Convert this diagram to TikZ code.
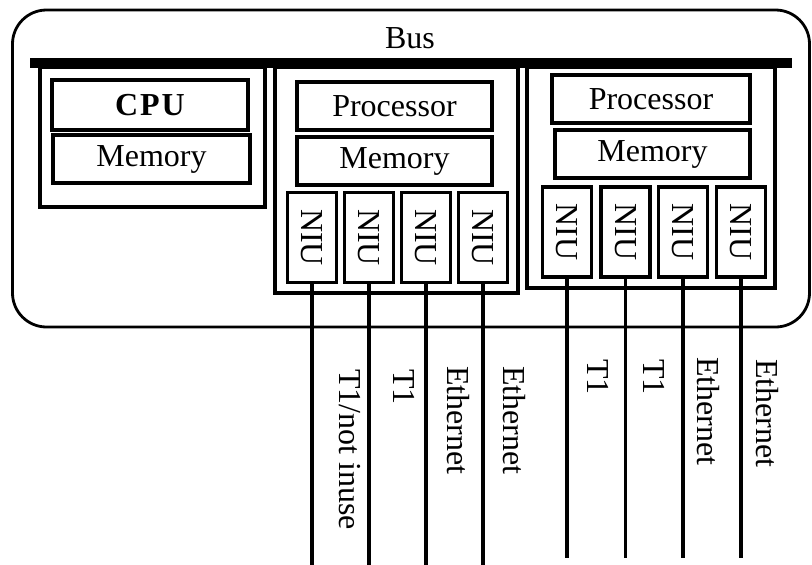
\documentclass[tikz,border=0pt]{standalone}
\usepackage{fontspec}
\setmainfont{Liberation Serif}
\begin{document}
\begin{tikzpicture}[x=1pt,y=-1pt,
  txt/.style={font=\fontsize{32}{36}\selectfont},
  box/.style={draw, line width=3.4pt, rectangle, inner sep=0pt, txt},
  module/.style={draw, line width=3.2pt, rectangle, inner sep=0pt},
  niu/.style={box, minimum width=49, minimum height=90},
  wire/.style={line width=3.4pt},
  lbl/.style={txt, rotate=-90, anchor=west, inner sep=0pt}]
\useasboundingbox (0,0) rectangle (812,565);
% outer enclosure
\node[draw, line width=2.8pt, rounded corners=34pt, minimum width=797, minimum height=317, inner sep=0pt] (outer) at (411,168.5) {};
\node[txt, inner sep=0pt] (buslbl) at (410,38) {Bus};
\node[fill=black, draw=none, minimum width=762, minimum height=10, inner sep=0pt] (bus) at (411,63) {};
% module 1
\node[module, minimum width=225, minimum height=140] (m1) at (152.5,137) {};
\node[box, minimum width=196, minimum height=50] (cpu) at (150,105) {\bfseries\addfontfeature{LetterSpace=6}CPU};
\node[box, minimum width=197, minimum height=48] (mem1) at (151.5,159) {Memory};
% module 2
\node[module, minimum width=243, minimum height=226] (m2) at (396.5,180) {};
\node[box, minimum width=195, minimum height=48] (proc2) at (394.5,106) {Processor};
\node[box, minimum width=195, minimum height=48] (mem2) at (394.5,161) {Memory};
\node[niu] (n2a) at (312,237.5) {\rotatebox{-90}{NIU}};
\node[niu] (n2b) at (369,237.5) {\rotatebox{-90}{NIU}};
\node[niu] (n2c) at (426,237.5) {\rotatebox{-90}{NIU}};
\node[niu] (n2d) at (483,237.5) {\rotatebox{-90}{NIU}};
% module 3
\node[module, minimum width=248, minimum height=221] (m3) at (651,177.5) {};
\node[box, minimum width=198, minimum height=48] (proc3) at (651,99) {Processor};
\node[box, minimum width=195, minimum height=48] (mem3) at (652.5,154) {Memory};
\node[niu] (n3a) at (567,232) {\rotatebox{-90}{NIU}};
\node[niu] (n3b) at (625.5,232) {\rotatebox{-90}{NIU}};
\node[niu] (n3c) at (683,232) {\rotatebox{-90}{NIU}};
\node[niu] (n3d) at (741,232) {\rotatebox{-90}{NIU}};
% wire ends
\coordinate (e2a) at (312,565);
\coordinate (e2b) at (369,565);
\coordinate (e2c) at (426,565);
\coordinate (e2d) at (483,565);
\coordinate (e3a) at (567,558);
\coordinate (e3b) at (625.5,558);
\coordinate (e3c) at (683,558);
\coordinate (e3d) at (741,558);
\foreach \n in {2a,2b,2c,2d,3a,3b,3c,3d} {
  \draw[wire] (n\n.south) -- (e\n);
}
% labels
\node[lbl] (l1) at (350,369) {T1/not inuse};
\node[lbl] (l2) at (404,369) {T1};
\node[lbl] (l3) at (458,366) {Ethernet};
\node[lbl] (l4) at (514,366) {Ethernet};
\node[lbl] (l5) at (598,359) {T1};
\node[lbl] (l6) at (654,359) {T1};
\node[lbl] (l7) at (708,357) {Ethernet};
\node[lbl] (l8) at (767,359) {Ethernet};
\end{tikzpicture}
\end{document}
